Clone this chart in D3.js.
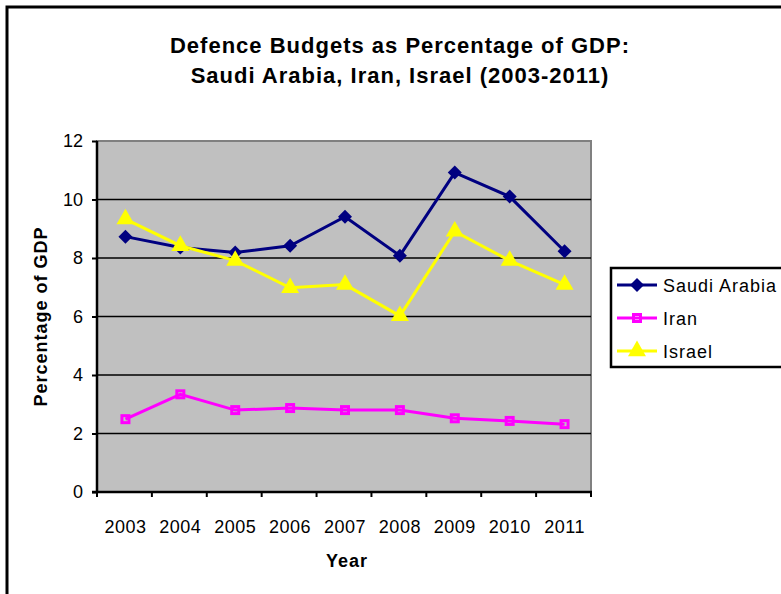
<!DOCTYPE html>
<html>
<head>
<meta charset="utf-8">
<script src="https://cdn.jsdelivr.net/npm/d3@7/dist/d3.min.js"></script>
<style>
  body { margin: 0; background: #fff; }
  text { font-family: "Liberation Sans", Arial, sans-serif; }
</style>
</head>
<body>
<div id="chart-area"></div>
<script>
// Defence budgets as % of GDP
var years = ["2003", "2004", "2005", "2006", "2007", "2008", "2009", "2010", "2011"];
var saudiArabia = [8.73, 8.36, 8.19, 8.42, 9.41, 8.08, 10.92, 10.1, 8.23];
var iran = [2.49, 3.34, 2.8, 2.87, 2.8, 2.8, 2.52, 2.43, 2.32];
var israel = [9.33, 8.42, 7.91, 6.98, 7.09, 6.02, 8.91, 7.91, 7.09];
var yTicks = [0, 2, 4, 6, 8, 10, 12];

var series = [
    { name: "Saudi Arabia", values: saudiArabia, color: "#000080", marker: "diamond" },
    { name: "Iran", values: iran, color: "#ff00ff", marker: "square" },
    { name: "Israel", values: israel, color: "#ffff00", marker: "triangle" }
];

var W = 781, H = 594;
var margin = { left: 97, right: 190, top: 141, bottom: 102 };
var width = W - margin.left - margin.right,
    height = H - margin.top - margin.bottom;

var svg = d3.select("#chart-area").append("svg")
    .attr("width", W)
    .attr("height", H);

// outer chart border
svg.append("rect")
    .attr("x", 7).attr("y", 7)
    .attr("width", W + 10).attr("height", H + 10)
    .attr("fill", "#fff")
    .attr("stroke", "#000")
    .attr("stroke-width", 3);

// Title
var title = svg.append("text")
    .attr("text-anchor", "middle")
    .attr("font-size", "22px")
    .attr("font-weight", "bold")
    .attr("letter-spacing", "1px")
    .style("fill", "black");
title.append("tspan").attr("x", 400).attr("y", 53).text("Defence Budgets as Percentage of GDP:");
title.append("tspan").attr("x", 400).attr("y", 83).text("Saudi Arabia, Iran, Israel (2003-2011)");

var g = svg.append("g").attr("transform", "translate(" + margin.left + ", " + margin.top + ")");

var x = d3.scaleBand().domain(years).range([0, width]);
var y = d3.scaleLinear().domain([0, 12]).range([height, 0]);

// plot area
g.append("rect")
    .attr("width", width).attr("height", height)
    .attr("fill", "#c0c0c0")
    .attr("stroke", "#808080")
    .attr("stroke-width", 2);

// gridlines
g.selectAll(".grid").data(yTicks.filter(function (d) { return d > 0 && d < 12; }))
    .enter().append("line")
    .attr("class", "grid")
    .attr("x1", 0).attr("x2", width)
    .attr("y1", function (d) { return y(d); })
    .attr("y2", function (d) { return y(d); })
    .attr("stroke", "#000")
    .attr("stroke-width", 1.5);

// Y axis
var leftAxis = d3.axisLeft(y).tickValues(yTicks).tickSize(5).tickPadding(9);
var yAxisGroup = g.append("g").attr("class", "y axis").call(leftAxis);
yAxisGroup.select(".domain").attr("stroke-width", 2.5).attr("d", "M0," + (height + 1) + "V0");
yAxisGroup.selectAll(".tick line").attr("stroke-width", 2);
yAxisGroup.selectAll("text")
    .attr("font-size", "18px")
    .attr("font-family", "Liberation Sans, Arial, sans-serif");

// X axis
var xAxisGroup = g.append("g").attr("class", "x axis")
    .attr("transform", "translate(0, " + height + ")");
xAxisGroup.append("line")
    .attr("x1", -5).attr("x2", width + 1)
    .attr("stroke", "#000").attr("stroke-width", 2.5);
var bounds = years.map(function (d) { return x(d); }).concat([width]);
xAxisGroup.selectAll(".xtick").data(bounds).enter().append("line")
    .attr("x1", function (d) { return d; }).attr("x2", function (d) { return d; })
    .attr("y1", 0).attr("y2", 5)
    .attr("stroke", "#000").attr("stroke-width", 2);
xAxisGroup.selectAll(".xlabel").data(years).enter().append("text")
    .attr("x", function (d) { return x(d) + x.bandwidth() / 2 + 1; })
    .attr("y", 41)
    .attr("text-anchor", "middle")
    .attr("font-size", "18px")
    .attr("letter-spacing", "0.5px")
    .style("fill", "black")
    .text(function (d) { return d; });

// X Label
g.append("text")
    .attr("x", width / 2 + 3)
    .attr("y", height + 75)
    .attr("font-size", "18px")
    .attr("font-weight", "bold")
    .attr("letter-spacing", "1px")
    .attr("text-anchor", "middle")
    .style("fill", "black")
    .text("Year");

// Y Label
g.append("text")
    .attr("x", -(height / 2))
    .attr("y", -50)
    .attr("font-size", "18px")
    .attr("font-weight", "bold")
    .attr("letter-spacing", "1px")
    .attr("text-anchor", "middle")
    .style("fill", "black")
    .attr("transform", "rotate(-90)")
    .text("Percentage of GDP");

var symbols = { diamond: d3.symbolDiamond2, triangle: d3.symbolTriangle };
var sizes = { diamond: 125, triangle: 140 };

function drawMarker(sel, s) {
    if (s.marker === "square") {
        sel.append("rect")
            .attr("x", -3.5).attr("y", -3.5).attr("width", 7).attr("height", 7)
            .attr("fill", "none").attr("stroke", s.color).attr("stroke-width", 3);
    } else {
        sel.append("path")
            .attr("d", d3.symbol().type(symbols[s.marker]).size(sizes[s.marker])())
            .attr("fill", s.color);
    }
}

var line = d3.line()
    .x(function (d, i) { return x(years[i]) + x.bandwidth() / 2 + 1; })
    .y(function (d) { return y(d); });

series.forEach(function (s) {
    g.append("path")
        .datum(s.values)
        .attr("d", line)
        .attr("fill", "none")
        .attr("stroke", s.color)
        .attr("stroke-width", 3);
    s.values.forEach(function (v, i) {
        var m = g.append("g")
            .attr("transform", "translate(" + (x(years[i]) + x.bandwidth() / 2 + 1) + "," + y(v) + ")");
        drawMarker(m, s);
    });
});

// Legend
var legend = svg.append("g").attr("transform", "translate(611, 268)");
legend.append("rect")
    .attr("width", 200).attr("height", 99)
    .attr("fill", "#fff").attr("stroke", "#000").attr("stroke-width", 2.5);
series.forEach(function (s, i) {
    var yy = 17 + i * 33;
    var item = legend.append("g").attr("transform", "translate(0," + yy + ")");
    item.append("line")
        .attr("x1", 6).attr("x2", 46)
        .attr("stroke", s.color).attr("stroke-width", 3);
    var m = item.append("g").attr("transform", "translate(26,0)");
    drawMarker(m, s);
    item.append("text")
        .attr("x", 52).attr("y", 7)
        .attr("font-size", "18px")
        .attr("letter-spacing", "1px")
        .style("fill", "black")
        .text(s.name);
});
</script>
</body>
</html>
